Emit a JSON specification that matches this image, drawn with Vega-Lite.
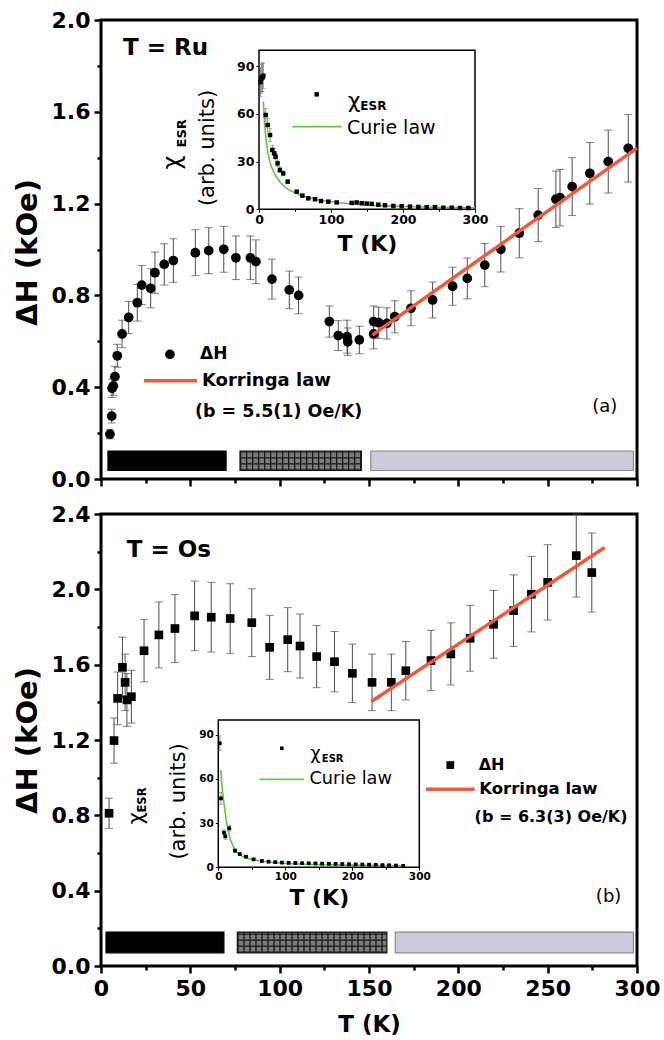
{
  "$schema": "https://vega.github.io/schema/vega-lite/v6.json",
  "width": 536,
  "height": 946,
  "autosize": {"type": "none"},
  "padding": {"left": 101, "top": 20, "right": 27, "bottom": 74},
  "background": "white",
  "config": {
    "view": {"stroke": null},
    "font": "DejaVu Sans",
    "axis": {"domain": false, "grid": false, "labelFont": "DejaVu Sans", "labelFontWeight": "bold", "labelColor": "black", "tickColor": "black", "titleFont": "DejaVu Sans", "titleFontWeight": "bold", "titleColor": "black", "labelFlush": false, "labelOverlap": false, "labelBound": false, "zindex": 1},
    "text": {"font": "DejaVu Sans", "color": "black"}
  },
  "data": {"values": [{}]},
  "datasets": {
    "ru": [
      {"T": 5.0, "H": 0.195, "err": 0.02}, {"T": 6.0, "H": 0.274, "err": 0.03}, {"T": 6.2, "H": 0.395, "err": 0.04}, {"T": 6.9, "H": 0.405, "err": 0.04},
      {"T": 7.8, "H": 0.446, "err": 0.045}, {"T": 9.1, "H": 0.537, "err": 0.05}, {"T": 11.8, "H": 0.632, "err": 0.06}, {"T": 15.5, "H": 0.704, "err": 0.07},
      {"T": 20.3, "H": 0.768, "err": 0.08}, {"T": 22.8, "H": 0.845, "err": 0.085}, {"T": 27.8, "H": 0.831, "err": 0.085}, {"T": 30.2, "H": 0.899, "err": 0.09},
      {"T": 35.4, "H": 0.935, "err": 0.09}, {"T": 40.5, "H": 0.952, "err": 0.095}, {"T": 52.8, "H": 0.986, "err": 0.1}, {"T": 60.3, "H": 0.995, "err": 0.1},
      {"T": 68.7, "H": 1.001, "err": 0.1}, {"T": 75.5, "H": 0.964, "err": 0.095}, {"T": 83.6, "H": 0.964, "err": 0.095}, {"T": 86.7, "H": 0.947, "err": 0.095},
      {"T": 95.7, "H": 0.871, "err": 0.087}, {"T": 105.4, "H": 0.824, "err": 0.082}, {"T": 110.6, "H": 0.8, "err": 0.08}, {"T": 127.8, "H": 0.686, "err": 0.068},
      {"T": 132.8, "H": 0.625, "err": 0.065}, {"T": 137.7, "H": 0.62, "err": 0.072}, {"T": 138.1, "H": 0.598, "err": 0.06}, {"T": 144.6, "H": 0.606, "err": 0.06},
      {"T": 152.6, "H": 0.686, "err": 0.068}, {"T": 152.6, "H": 0.632, "err": 0.065}, {"T": 155.4, "H": 0.681, "err": 0.068}, {"T": 160.0, "H": 0.678, "err": 0.068},
      {"T": 164.4, "H": 0.707, "err": 0.07}, {"T": 173.5, "H": 0.744, "err": 0.076}, {"T": 185.6, "H": 0.78, "err": 0.078}, {"T": 196.8, "H": 0.84, "err": 0.083},
      {"T": 205.0, "H": 0.874, "err": 0.089}, {"T": 214.8, "H": 0.932, "err": 0.094}, {"T": 223.8, "H": 1.001, "err": 0.099}, {"T": 234.1, "H": 1.071, "err": 0.107},
      {"T": 244.7, "H": 1.15, "err": 0.116}, {"T": 254.6, "H": 1.219, "err": 0.123}, {"T": 256.9, "H": 1.226, "err": 0.123}, {"T": 263.7, "H": 1.274, "err": 0.126},
      {"T": 273.6, "H": 1.332, "err": 0.134}, {"T": 283.9, "H": 1.383, "err": 0.137}, {"T": 295.1, "H": 1.441, "err": 0.147}
    ],
    "os": [
      {"T": 4.5, "H": 0.811, "err": 0.08}, {"T": 7.3, "H": 1.197, "err": 0.12}, {"T": 9.3, "H": 1.421, "err": 0.14}, {"T": 12.0, "H": 1.586, "err": 0.16},
      {"T": 13.5, "H": 1.506, "err": 0.15}, {"T": 14.5, "H": 1.413, "err": 0.14}, {"T": 17.0, "H": 1.43, "err": 0.14}, {"T": 24.1, "H": 1.674, "err": 0.165},
      {"T": 32.4, "H": 1.758, "err": 0.175}, {"T": 41.4, "H": 1.792, "err": 0.18}, {"T": 52.4, "H": 1.859, "err": 0.185}, {"T": 61.7, "H": 1.852, "err": 0.185},
      {"T": 72.3, "H": 1.845, "err": 0.185}, {"T": 84.4, "H": 1.823, "err": 0.18}, {"T": 94.4, "H": 1.692, "err": 0.17}, {"T": 104.5, "H": 1.733, "err": 0.17},
      {"T": 111.4, "H": 1.699, "err": 0.17}, {"T": 120.7, "H": 1.643, "err": 0.165}, {"T": 130.7, "H": 1.616, "err": 0.16}, {"T": 140.7, "H": 1.554, "err": 0.155},
      {"T": 151.7, "H": 1.506, "err": 0.15}, {"T": 162.5, "H": 1.506, "err": 0.15}, {"T": 170.6, "H": 1.568, "err": 0.155}, {"T": 184.7, "H": 1.622, "err": 0.16},
      {"T": 195.8, "H": 1.657, "err": 0.165}, {"T": 206.6, "H": 1.74, "err": 0.175}, {"T": 219.7, "H": 1.814, "err": 0.18}, {"T": 230.9, "H": 1.887, "err": 0.19},
      {"T": 240.9, "H": 1.974, "err": 0.2}, {"T": 250.0, "H": 2.037, "err": 0.2}, {"T": 266.0, "H": 2.179, "err": 0.22}, {"T": 274.7, "H": 2.089, "err": 0.21}
    ],
    "korA": [{"T": 152, "H": 0.628}, {"T": 300, "H": 1.442}],
    "korB": [{"T": 151.3, "H": 1.404}, {"T": 281.9, "H": 2.222}],
    "barsA": [{"regime": "low", "t0": 3.9, "t1": 70}, {"regime": "mid", "t0": 77.8, "t1": 145.7}, {"regime": "high", "t0": 151, "t1": 298}],
    "barsB": [{"regime": "low", "t0": 2.8, "t1": 68.8}, {"regime": "mid", "t0": 76.3, "t1": 160}, {"regime": "high", "t0": 164.7, "t1": 298}],
    "chiA": [
      {"T": 2, "v": 80, "err": 9}, {"T": 3, "v": 82, "err": 9}, {"T": 4, "v": 83, "err": 9}, {"T": 5, "v": 83, "err": 9}, {"T": 6, "v": 84, "err": 8},
      {"T": 9.3, "v": 59.3, "err": 4}, {"T": 12, "v": 53, "err": 4}, {"T": 15.3, "v": 46.7, "err": 4}, {"T": 18.5, "v": 37.3, "err": 3}, {"T": 21.3, "v": 35.2, "err": 3},
      {"T": 23, "v": 33.1, "err": 2}, {"T": 25.8, "v": 28.9, "err": 2}, {"T": 29, "v": 24.7, "err": 1.5}, {"T": 33.6, "v": 22.6, "err": 1.5}, {"T": 39.8, "v": 17.4, "err": 1},
      {"T": 52.3, "v": 11.1, "err": 0.5}, {"T": 60.2, "v": 8.6, "err": 0.5}, {"T": 68.5, "v": 6.9, "err": 0.4}, {"T": 77.8, "v": 6.3, "err": 0.4}, {"T": 86.1, "v": 5.2, "err": 0.3},
      {"T": 96.3, "v": 4.8, "err": 0.3}, {"T": 107.9, "v": 4.3, "err": 0.3}, {"T": 128.7, "v": 4.0, "err": 0.3}, {"T": 135.6, "v": 4.3, "err": 0.3}, {"T": 142.6, "v": 3.8, "err": 0.3},
      {"T": 149.5, "v": 3.6, "err": 0.3}, {"T": 156.5, "v": 3.4, "err": 0.3}, {"T": 165.7, "v": 2.9, "err": 0.3}, {"T": 175, "v": 2.5, "err": 0.3}, {"T": 186.6, "v": 2.1, "err": 0.3},
      {"T": 198.1, "v": 1.9, "err": 0.3}, {"T": 209.7, "v": 1.7, "err": 0.3}, {"T": 221.3, "v": 1.5, "err": 0.3}, {"T": 232.9, "v": 1.3, "err": 0.3}, {"T": 244.4, "v": 1.3, "err": 0.3},
      {"T": 256, "v": 1.0, "err": 0.3}, {"T": 267.6, "v": 1.0, "err": 0.3}, {"T": 279.2, "v": 0.8, "err": 0.3}, {"T": 290.7, "v": 0.8, "err": 0.3}
    ],
    "curieA": [
      {"T": 6.0, "v": 67.7}, {"T": 8.3, "v": 50.9}, {"T": 12.9, "v": 34.2}, {"T": 19.9, "v": 24.0}, {"T": 31.5, "v": 16.0}, {"T": 54.6, "v": 9.5},
      {"T": 77.8, "v": 6.5}, {"T": 124, "v": 3.6}, {"T": 170.4, "v": 2.3}, {"T": 216.7, "v": 1.6}, {"T": 300, "v": 1.0}
    ],
    "chiB": [
      {"T": 2.2, "v": 84.2, "err": 5}, {"T": 4, "v": 46.8, "err": 4}, {"T": 8.5, "v": 23.5, "err": 2}, {"T": 10.5, "v": 21, "err": 2}, {"T": 16.4, "v": 26.5, "err": 2},
      {"T": 24.9, "v": 11.3, "err": 1}, {"T": 32, "v": 9, "err": 0.8}, {"T": 41.4, "v": 7.2, "err": 0.6}, {"T": 52.7, "v": 5.4, "err": 0.5}, {"T": 65, "v": 4.3, "err": 0.4},
      {"T": 75, "v": 3.8, "err": 0.3}, {"T": 85, "v": 3.5, "err": 0.3}, {"T": 95, "v": 3.2, "err": 0.3}, {"T": 105, "v": 3.0, "err": 0.3}, {"T": 115, "v": 2.9, "err": 0.3},
      {"T": 125, "v": 2.8, "err": 0.3}, {"T": 135, "v": 2.7, "err": 0.3}, {"T": 145, "v": 2.6, "err": 0.3}, {"T": 155, "v": 2.5, "err": 0.3}, {"T": 165, "v": 2.4, "err": 0.3},
      {"T": 175, "v": 2.3, "err": 0.3}, {"T": 185, "v": 2.2, "err": 0.3}, {"T": 195, "v": 2.1, "err": 0.3}, {"T": 205, "v": 2.0, "err": 0.3}, {"T": 215, "v": 1.9, "err": 0.3},
      {"T": 225, "v": 1.8, "err": 0.3}, {"T": 235, "v": 1.7, "err": 0.3}, {"T": 245, "v": 1.5, "err": 0.3}, {"T": 255, "v": 1.4, "err": 0.3}, {"T": 265, "v": 1.2, "err": 0.3},
      {"T": 276, "v": 1.0, "err": 0.3}
    ],
    "curieB": [
      {"T": 3.6, "v": 66}, {"T": 5.5, "v": 55}, {"T": 8.5, "v": 43.4}, {"T": 15, "v": 24.2}, {"T": 22.4, "v": 14}, {"T": 37.3, "v": 7.2},
      {"T": 72, "v": 3.8}, {"T": 122, "v": 2.2}, {"T": 200, "v": 1.5}, {"T": 276.6, "v": 1.0}
    ]
  },
  "resolve": {"scale": {"x": "independent", "y": "independent"}, "axis": {"x": "independent", "y": "independent"}},
  "layer": [
    {
      "mark": {"type": "rect", "filled": false, "stroke": "black", "strokeWidth": 3},
      "encoding": {
        "x": {"datum": 0, "type": "quantitative", "scale": {"domain": [0, 300], "range": [0, 536], "nice": false, "zero": false},
              "axis": {"orient": "bottom", "offset": -487, "values": [0, 50, 100, 150, 200, 250, 300], "labels": false, "tickSize": 7, "tickWidth": 2.5, "title": null}},
        "x2": {"datum": 300},
        "y": {"datum": 0, "type": "quantitative", "scale": {"domain": [0, 2], "range": [459, 0], "nice": false, "zero": false},
              "axis": {"orient": "left", "values": [0, 0.4, 0.8, 1.2, 1.6, 2.0], "format": ".1f", "tickSize": 7, "tickWidth": 2.5, "labelFontSize": 22, "labelPadding": 4,
                       "title": "ΔH (kOe)", "titleFontSize": 29, "titleX": -74, "titleY": 232, "titleAngle": 270, "titleAlign": "center", "titleBaseline": "middle"}},
        "y2": {"datum": 2}
      }
    },
    {
      "mark": {"type": "rect", "filled": false, "stroke": "black", "strokeWidth": 3},
      "encoding": {
        "x": {"datum": 0, "type": "quantitative", "scale": {"domain": [0, 300], "range": [0, 536], "nice": false, "zero": false},
              "axis": {"orient": "bottom", "offset": 0, "values": [0, 50, 100, 150, 200, 250, 300], "tickSize": 7, "tickWidth": 2.5, "labelFontSize": 22, "labelPadding": 5,
                       "title": "T (K)", "titleFontSize": 23, "titleX": 268, "titleY": 58, "titleAngle": 0, "titleAlign": "center", "titleBaseline": "middle"}},
        "x2": {"datum": 300},
        "y": {"datum": 0, "type": "quantitative", "scale": {"domain": [0, 2.4], "range": [946, 494], "nice": false, "zero": false},
              "axis": {"orient": "left", "values": [0, 0.4, 0.8, 1.2, 1.6, 2.0, 2.4], "format": ".1f", "tickSize": 7, "tickWidth": 2.5, "labelFontSize": 22, "labelPadding": 4,
                       "title": "ΔH (kOe)", "titleFontSize": 29, "titleX": -74, "titleY": 720, "titleAngle": 270, "titleAlign": "center", "titleBaseline": "middle"}},
        "y2": {"datum": 2.4}
      }
    },
    {
      "data": {"name": "barsA"},
      "mark": {"type": "rect", "strokeWidth": 1.2},
      "encoding": {
        "x": {"field": "t0", "type": "quantitative", "scale": {"domain": [0, 300], "range": [0, 536], "nice": false, "zero": false},
              "axis": {"orient": "bottom", "offset": -487, "values": [25, 75, 125, 175, 225, 275], "labels": false, "tickSize": 4, "tickWidth": 2.5, "title": null}},
        "x2": {"field": "t1"},
        "y": {"datum": 0.037, "type": "quantitative", "scale": {"domain": [0, 2], "range": [459, 0], "nice": false, "zero": false},
              "axis": {"orient": "left", "values": [0.2, 0.6, 1.0, 1.4, 1.8], "labels": false, "tickSize": 4, "tickWidth": 2.5, "title": null}},
        "y2": {"datum": 0.122},
        "fill": {"field": "regime", "type": "nominal", "scale": {"domain": ["low", "mid", "high"], "range": ["#000000", "#7a7a7a", "#cbcbdb"]}, "legend": null},
        "stroke": {"field": "regime", "type": "nominal", "scale": {"domain": ["low", "mid", "high"], "range": ["#000000", "#111111", "#8c8c8c"]}, "legend": null}
      }
    },
    {
      "data": {"name": "barsB"},
      "mark": {"type": "rect", "strokeWidth": 1.2},
      "encoding": {
        "x": {"field": "t0", "type": "quantitative", "scale": {"domain": [0, 300], "range": [0, 536], "nice": false, "zero": false},
              "axis": {"orient": "bottom", "offset": 0, "values": [25, 75, 125, 175, 225, 275], "labels": false, "tickSize": 4, "tickWidth": 2.5, "title": null}},
        "x2": {"field": "t1"},
        "y": {"datum": 0.07, "type": "quantitative", "scale": {"domain": [0, 2.4], "range": [946, 494], "nice": false, "zero": false},
              "axis": {"orient": "left", "values": [0.2, 0.6, 1.0, 1.4, 1.8, 2.2], "labels": false, "tickSize": 4, "tickWidth": 2.5, "title": null}},
        "y2": {"datum": 0.18},
        "fill": {"field": "regime", "type": "nominal", "scale": {"domain": ["low", "mid", "high"], "range": ["#000000", "#7a7a7a", "#cbcbdb"]}, "legend": null},
        "stroke": {"field": "regime", "type": "nominal", "scale": {"domain": ["low", "mid", "high"], "range": ["#000000", "#111111", "#8c8c8c"]}, "legend": null}
      }
    },
    {
      "mark": {"type": "rule", "color": "#1a1a1a", "strokeWidth": 19.5, "strokeDash": [1.3, 4.7]},
      "encoding": {
        "x": {"datum": 77.8, "type": "quantitative", "scale": {"domain": [0, 300], "range": [0, 536], "nice": false, "zero": false}, "axis": null},
        "x2": {"datum": 145.7},
        "y": {"datum": 0.0795, "type": "quantitative", "scale": {"domain": [0, 2], "range": [459, 0], "nice": false, "zero": false}, "axis": null}
      }
    },
    {
      "mark": {"type": "rule", "color": "#1a1a1a", "strokeWidth": 121.3, "strokeDash": [1.3, 4.7]},
      "encoding": {
        "x": {"datum": 111.75, "type": "quantitative", "scale": {"domain": [0, 300], "range": [0, 536], "nice": false, "zero": false}, "axis": null},
        "y": {"datum": 0.037, "type": "quantitative", "scale": {"domain": [0, 2], "range": [459, 0], "nice": false, "zero": false}, "axis": null},
        "y2": {"datum": 0.122}
      }
    },
    {
      "mark": {"type": "rule", "color": "#1a1a1a", "strokeWidth": 20.7, "strokeDash": [1.3, 4.7]},
      "encoding": {
        "x": {"datum": 76.3, "type": "quantitative", "scale": {"domain": [0, 300], "range": [0, 536], "nice": false, "zero": false}, "axis": null},
        "x2": {"datum": 160},
        "y": {"datum": 0.125, "type": "quantitative", "scale": {"domain": [0, 2.4], "range": [946, 494], "nice": false, "zero": false}, "axis": null}
      }
    },
    {
      "mark": {"type": "rule", "color": "#1a1a1a", "strokeWidth": 149.6, "strokeDash": [1.3, 4.7]},
      "encoding": {
        "x": {"datum": 118.15, "type": "quantitative", "scale": {"domain": [0, 300], "range": [0, 536], "nice": false, "zero": false}, "axis": null},
        "y": {"datum": 0.07, "type": "quantitative", "scale": {"domain": [0, 2.4], "range": [946, 494], "nice": false, "zero": false}, "axis": null},
        "y2": {"datum": 0.18}
      }
    },
    {
      "data": {"name": "ru"},
      "mark": {"type": "errorbar", "ticks": {"size": 8, "thickness": 1, "color": "#4d4d4d"}, "rule": {"color": "#4d4d4d", "strokeWidth": 1}},
      "encoding": {
        "x": {"field": "T", "type": "quantitative", "scale": {"domain": [0, 300], "range": [0, 536], "nice": false, "zero": false}, "axis": null},
        "y": {"field": "H", "type": "quantitative", "scale": {"domain": [0, 2], "range": [459, 0], "nice": false, "zero": false}, "axis": null},
        "yError": {"field": "err"}
      }
    },
    {
      "data": {"name": "ru"},
      "mark": {"type": "point", "shape": "circle", "filled": true, "size": 95, "color": "black", "opacity": 1},
      "encoding": {
        "x": {"field": "T", "type": "quantitative", "scale": {"domain": [0, 300], "range": [0, 536], "nice": false, "zero": false}, "axis": null},
        "y": {"field": "H", "type": "quantitative", "scale": {"domain": [0, 2], "range": [459, 0], "nice": false, "zero": false}, "axis": null}
      }
    },
    {
      "data": {"name": "korA"},
      "mark": {"type": "line", "color": "#ee5a3c", "strokeWidth": 3.5},
      "encoding": {
        "x": {"field": "T", "type": "quantitative", "scale": {"domain": [0, 300], "range": [0, 536], "nice": false, "zero": false}, "axis": null},
        "y": {"field": "H", "type": "quantitative", "scale": {"domain": [0, 2], "range": [459, 0], "nice": false, "zero": false}, "axis": null}
      }
    },
    {
      "data": {"name": "os"},
      "mark": {"type": "errorbar", "ticks": {"size": 8, "thickness": 1, "color": "#4d4d4d"}, "rule": {"color": "#4d4d4d", "strokeWidth": 1}},
      "encoding": {
        "x": {"field": "T", "type": "quantitative", "scale": {"domain": [0, 300], "range": [0, 536], "nice": false, "zero": false}, "axis": null},
        "y": {"field": "H", "type": "quantitative", "scale": {"domain": [0, 2.4], "range": [946, 494], "nice": false, "zero": false}, "axis": null},
        "yError": {"field": "err"}
      }
    },
    {
      "data": {"name": "os"},
      "mark": {"type": "square", "size": 75, "color": "black", "opacity": 1},
      "encoding": {
        "x": {"field": "T", "type": "quantitative", "scale": {"domain": [0, 300], "range": [0, 536], "nice": false, "zero": false}, "axis": null},
        "y": {"field": "H", "type": "quantitative", "scale": {"domain": [0, 2.4], "range": [946, 494], "nice": false, "zero": false}, "axis": null}
      }
    },
    {
      "data": {"name": "korB"},
      "mark": {"type": "line", "color": "#ee5a3c", "strokeWidth": 3.5},
      "encoding": {
        "x": {"field": "T", "type": "quantitative", "scale": {"domain": [0, 300], "range": [0, 536], "nice": false, "zero": false}, "axis": null},
        "y": {"field": "H", "type": "quantitative", "scale": {"domain": [0, 2.4], "range": [946, 494], "nice": false, "zero": false}, "axis": null}
      }
    },
    {
      "mark": {"type": "text", "text": "T = Ru", "align": "left", "baseline": "middle", "fontSize": 23, "fontWeight": "bold"},
      "encoding": {
        "x": {"datum": 12.3, "type": "quantitative", "scale": {"domain": [0, 300], "range": [0, 536], "nice": false, "zero": false}, "axis": null},
        "y": {"datum": 1.878, "type": "quantitative", "scale": {"domain": [0, 2], "range": [459, 0], "nice": false, "zero": false}, "axis": null}
      }
    },
    {
      "mark": {"type": "point", "shape": "circle", "filled": true, "size": 95, "color": "black", "opacity": 1},
      "encoding": {
        "x": {"datum": 38.6, "type": "quantitative", "scale": {"domain": [0, 300], "range": [0, 536], "nice": false, "zero": false}, "axis": null},
        "y": {"datum": 0.543, "type": "quantitative", "scale": {"domain": [0, 2], "range": [459, 0], "nice": false, "zero": false}, "axis": null}
      }
    },
    {
      "mark": {"type": "text", "text": "ΔH", "align": "left", "baseline": "middle", "fontSize": 17, "fontWeight": "bold"},
      "encoding": {
        "x": {"datum": 55.4, "type": "quantitative", "scale": {"domain": [0, 300], "range": [0, 536], "nice": false, "zero": false}, "axis": null},
        "y": {"datum": 0.545, "type": "quantitative", "scale": {"domain": [0, 2], "range": [459, 0], "nice": false, "zero": false}, "axis": null}
      }
    },
    {
      "mark": {"type": "rule", "color": "#ee5a3c", "strokeWidth": 3.5},
      "encoding": {
        "x": {"datum": 24.1, "type": "quantitative", "scale": {"domain": [0, 300], "range": [0, 536], "nice": false, "zero": false}, "axis": null},
        "x2": {"datum": 53.7},
        "y": {"datum": 0.428, "type": "quantitative", "scale": {"domain": [0, 2], "range": [459, 0], "nice": false, "zero": false}, "axis": null}
      }
    },
    {
      "mark": {"type": "text", "text": "Korringa law", "align": "left", "baseline": "middle", "fontSize": 18, "fontWeight": "bold"},
      "encoding": {
        "x": {"datum": 56.5, "type": "quantitative", "scale": {"domain": [0, 300], "range": [0, 536], "nice": false, "zero": false}, "axis": null},
        "y": {"datum": 0.428, "type": "quantitative", "scale": {"domain": [0, 2], "range": [459, 0], "nice": false, "zero": false}, "axis": null}
      }
    },
    {
      "mark": {"type": "text", "text": "(b = 5.5(1) Oe/K)", "align": "left", "baseline": "middle", "fontSize": 17.5, "fontWeight": "bold"},
      "encoding": {
        "x": {"datum": 52.6, "type": "quantitative", "scale": {"domain": [0, 300], "range": [0, 536], "nice": false, "zero": false}, "axis": null},
        "y": {"datum": 0.293, "type": "quantitative", "scale": {"domain": [0, 2], "range": [459, 0], "nice": false, "zero": false}, "axis": null}
      }
    },
    {
      "mark": {"type": "text", "text": "(a)", "align": "center", "baseline": "middle", "fontSize": 18},
      "encoding": {
        "x": {"datum": 282, "type": "quantitative", "scale": {"domain": [0, 300], "range": [0, 536], "nice": false, "zero": false}, "axis": null},
        "y": {"datum": 0.314, "type": "quantitative", "scale": {"domain": [0, 2], "range": [459, 0], "nice": false, "zero": false}, "axis": null}
      }
    },
    {
      "mark": {"type": "text", "text": "T = Os", "align": "left", "baseline": "middle", "fontSize": 23, "fontWeight": "bold"},
      "encoding": {
        "x": {"datum": 14.4, "type": "quantitative", "scale": {"domain": [0, 300], "range": [0, 536], "nice": false, "zero": false}, "axis": null},
        "y": {"datum": 2.209, "type": "quantitative", "scale": {"domain": [0, 2.4], "range": [946, 494], "nice": false, "zero": false}, "axis": null}
      }
    },
    {
      "mark": {"type": "square", "size": 60, "color": "black", "opacity": 1},
      "encoding": {
        "x": {"datum": 195.5, "type": "quantitative", "scale": {"domain": [0, 300], "range": [0, 536], "nice": false, "zero": false}, "axis": null},
        "y": {"datum": 1.067, "type": "quantitative", "scale": {"domain": [0, 2.4], "range": [946, 494], "nice": false, "zero": false}, "axis": null}
      }
    },
    {
      "mark": {"type": "text", "text": "ΔH", "align": "left", "baseline": "middle", "fontSize": 16, "fontWeight": "bold"},
      "encoding": {
        "x": {"datum": 211.4, "type": "quantitative", "scale": {"domain": [0, 300], "range": [0, 536], "nice": false, "zero": false}, "axis": null},
        "y": {"datum": 1.067, "type": "quantitative", "scale": {"domain": [0, 2.4], "range": [946, 494], "nice": false, "zero": false}, "axis": null}
      }
    },
    {
      "mark": {"type": "rule", "color": "#ee5a3c", "strokeWidth": 3.5},
      "encoding": {
        "x": {"datum": 181.9, "type": "quantitative", "scale": {"domain": [0, 300], "range": [0, 536], "nice": false, "zero": false}, "axis": null},
        "x2": {"datum": 209.1},
        "y": {"datum": 0.938, "type": "quantitative", "scale": {"domain": [0, 2.4], "range": [946, 494], "nice": false, "zero": false}, "axis": null}
      }
    },
    {
      "mark": {"type": "text", "text": "Korringa law", "align": "left", "baseline": "middle", "fontSize": 16.5, "fontWeight": "bold"},
      "encoding": {
        "x": {"datum": 211.7, "type": "quantitative", "scale": {"domain": [0, 300], "range": [0, 536], "nice": false, "zero": false}, "axis": null},
        "y": {"datum": 0.938, "type": "quantitative", "scale": {"domain": [0, 2.4], "range": [946, 494], "nice": false, "zero": false}, "axis": null}
      }
    },
    {
      "mark": {"type": "text", "text": "(b = 6.3(3) Oe/K)", "align": "left", "baseline": "middle", "fontSize": 16, "fontWeight": "bold"},
      "encoding": {
        "x": {"datum": 209.1, "type": "quantitative", "scale": {"domain": [0, 300], "range": [0, 536], "nice": false, "zero": false}, "axis": null},
        "y": {"datum": 0.793, "type": "quantitative", "scale": {"domain": [0, 2.4], "range": [946, 494], "nice": false, "zero": false}, "axis": null}
      }
    },
    {
      "mark": {"type": "text", "text": "(b)", "align": "center", "baseline": "middle", "fontSize": 18},
      "encoding": {
        "x": {"datum": 284.1, "type": "quantitative", "scale": {"domain": [0, 300], "range": [0, 536], "nice": false, "zero": false}, "axis": null},
        "y": {"datum": 0.368, "type": "quantitative", "scale": {"domain": [0, 2.4], "range": [946, 494], "nice": false, "zero": false}, "axis": null}
      }
    },
    {
      "mark": {"type": "rect", "fill": "white", "stroke": "black", "strokeWidth": 1.5},
      "encoding": {
        "x": {"datum": 0, "type": "quantitative", "scale": {"domain": [0, 300], "range": [158, 374], "nice": false, "zero": false},
              "axis": {"orient": "bottom", "offset": -756.7, "values": [0, 100, 200, 300], "tickSize": 3, "tickWidth": 1, "labelFontSize": 12.5, "labelPadding": 1,
                       "title": "T (K)", "titleFontSize": 22, "titleX": 266, "titleY": 33.7, "titleAngle": 0, "titleAlign": "center", "titleBaseline": "middle"}},
        "x2": {"datum": 300},
        "y": {"datum": 0, "type": "quantitative", "scale": {"domain": [0, 100], "range": [189.3, 30.3], "nice": false, "zero": false},
              "axis": {"orient": "left", "offset": -158, "values": [0, 30, 60, 90], "tickSize": 3, "tickWidth": 1, "labelFontSize": 12.5, "labelPadding": 2,
                       "title": "(arb. units)", "titleFontSize": 21, "titleFontWeight": "normal", "titleX": -52, "titleY": 127.5, "titleAngle": 270, "titleAlign": "center", "titleBaseline": "middle"}},
        "y2": {"datum": 100}
      }
    },
    {
      "data": {"name": "chiA"},
      "mark": {"type": "errorbar", "ticks": {"size": 4, "thickness": 0.8, "color": "#777777"}, "rule": {"color": "#777777", "strokeWidth": 0.8}},
      "encoding": {
        "x": {"field": "T", "type": "quantitative", "scale": {"domain": [0, 300], "range": [158, 374], "nice": false, "zero": false}, "axis": null},
        "y": {"field": "v", "type": "quantitative", "scale": {"domain": [0, 100], "range": [189.3, 30.3], "nice": false, "zero": false}, "axis": null},
        "yError": {"field": "err"}
      }
    },
    {
      "data": {"name": "curieA"},
      "mark": {"type": "line", "color": "#5ccc3c", "strokeWidth": 1.6, "interpolate": "monotone"},
      "encoding": {
        "x": {"field": "T", "type": "quantitative", "scale": {"domain": [0, 300], "range": [158, 374], "nice": false, "zero": false}, "axis": null},
        "y": {"field": "v", "type": "quantitative", "scale": {"domain": [0, 100], "range": [189.3, 30.3], "nice": false, "zero": false}, "axis": null}
      }
    },
    {
      "data": {"name": "chiA"},
      "mark": {"type": "square", "size": 20, "color": "black", "opacity": 1},
      "encoding": {
        "x": {"field": "T", "type": "quantitative", "scale": {"domain": [0, 300], "range": [158, 374], "nice": false, "zero": false},
              "axis": {"orient": "bottom", "offset": -756.7, "values": [50, 150, 250], "labels": false, "tickSize": 2, "tickWidth": 1, "title": null}},
        "y": {"field": "v", "type": "quantitative", "scale": {"domain": [0, 100], "range": [189.3, 30.3], "nice": false, "zero": false}, "axis": null}
      }
    },
    {
      "mark": {"type": "square", "size": 20, "color": "black", "opacity": 1},
      "encoding": {
        "x": {"datum": 80.1, "type": "quantitative", "scale": {"domain": [0, 300], "range": [158, 374], "nice": false, "zero": false}, "axis": null},
        "y": {"datum": 72.3, "type": "quantitative", "scale": {"domain": [0, 100], "range": [189.3, 30.3], "nice": false, "zero": false}, "axis": null}
      }
    },
    {
      "mark": {"type": "text", "text": "χ", "align": "center", "baseline": "middle", "fontSize": 22},
      "encoding": {
        "x": {"datum": 132.2, "type": "quantitative", "scale": {"domain": [0, 300], "range": [158, 374], "nice": false, "zero": false}, "axis": null},
        "y": {"datum": 68.2, "type": "quantitative", "scale": {"domain": [0, 100], "range": [189.3, 30.3], "nice": false, "zero": false}, "axis": null}
      }
    },
    {
      "mark": {"type": "text", "text": "ESR", "align": "center", "baseline": "middle", "fontSize": 12, "fontWeight": "bold"},
      "encoding": {
        "x": {"datum": 158.8, "type": "quantitative", "scale": {"domain": [0, 300], "range": [158, 374], "nice": false, "zero": false}, "axis": null},
        "y": {"datum": 64.8, "type": "quantitative", "scale": {"domain": [0, 100], "range": [189.3, 30.3], "nice": false, "zero": false}, "axis": null}
      }
    },
    {
      "mark": {"type": "rule", "color": "#5ccc3c", "strokeWidth": 1.8},
      "encoding": {
        "x": {"datum": 46.3, "type": "quantitative", "scale": {"domain": [0, 300], "range": [158, 374], "nice": false, "zero": false}, "axis": null},
        "x2": {"datum": 114.9},
        "y": {"datum": 52, "type": "quantitative", "scale": {"domain": [0, 100], "range": [189.3, 30.3], "nice": false, "zero": false}, "axis": null}
      }
    },
    {
      "mark": {"type": "text", "text": "Curie law", "align": "left", "baseline": "middle", "fontSize": 19},
      "encoding": {
        "x": {"datum": 122.2, "type": "quantitative", "scale": {"domain": [0, 300], "range": [158, 374], "nice": false, "zero": false}, "axis": null},
        "y": {"datum": 51.1, "type": "quantitative", "scale": {"domain": [0, 100], "range": [189.3, 30.3], "nice": false, "zero": false}, "axis": null}
      }
    },
    {
      "mark": {"type": "text", "text": "χ", "align": "center", "baseline": "middle", "fontSize": 24, "angle": 270},
      "encoding": {
        "x": {"datum": -120.1, "type": "quantitative", "scale": {"domain": [0, 300], "range": [158, 374], "nice": false, "zero": false}, "axis": null},
        "y": {"datum": 29.4, "type": "quantitative", "scale": {"domain": [0, 100], "range": [189.3, 30.3], "nice": false, "zero": false}, "axis": null}
      }
    },
    {
      "mark": {"type": "text", "text": "ESR", "align": "center", "baseline": "middle", "fontSize": 13, "fontWeight": "bold", "angle": 270},
      "encoding": {
        "x": {"datum": -107.4, "type": "quantitative", "scale": {"domain": [0, 300], "range": [158, 374], "nice": false, "zero": false}, "axis": null},
        "y": {"datum": 47.8, "type": "quantitative", "scale": {"domain": [0, 100], "range": [189.3, 30.3], "nice": false, "zero": false}, "axis": null}
      }
    },
    {
      "mark": {"type": "rect", "fill": "white", "stroke": "black", "strokeWidth": 1.5},
      "encoding": {
        "x": {"datum": 0, "type": "quantitative", "scale": {"domain": [0, 300], "range": [117.3, 318.3], "nice": false, "zero": false},
              "axis": {"orient": "bottom", "offset": -98.7, "values": [0, 100, 200, 300], "tickSize": 3, "tickWidth": 1, "labelFontSize": 10.5, "labelPadding": 1,
                       "title": "T (K)", "titleFontSize": 22, "titleX": 217.8, "titleY": 30, "titleAngle": 0, "titleAlign": "center", "titleBaseline": "middle"}},
        "x2": {"datum": 300},
        "y": {"datum": 0, "type": "quantitative", "scale": {"domain": [0, 100], "range": [847.3, 700], "nice": false, "zero": false},
              "axis": {"orient": "left", "offset": -117.3, "values": [0, 30, 60, 90], "tickSize": 3, "tickWidth": 1, "labelFontSize": 10.5, "labelPadding": 2,
                       "title": "(arb. units)", "titleFontSize": 21, "titleFontWeight": "normal", "titleX": -40.3, "titleY": 781, "titleAngle": 270, "titleAlign": "center", "titleBaseline": "middle"}},
        "y2": {"datum": 100}
      }
    },
    {
      "data": {"name": "chiB"},
      "mark": {"type": "errorbar", "ticks": {"size": 4, "thickness": 0.8, "color": "#777777"}, "rule": {"color": "#777777", "strokeWidth": 0.8}},
      "encoding": {
        "x": {"field": "T", "type": "quantitative", "scale": {"domain": [0, 300], "range": [117.3, 318.3], "nice": false, "zero": false}, "axis": null},
        "y": {"field": "v", "type": "quantitative", "scale": {"domain": [0, 100], "range": [847.3, 700], "nice": false, "zero": false}, "axis": null},
        "yError": {"field": "err"}
      }
    },
    {
      "data": {"name": "curieB"},
      "mark": {"type": "line", "color": "#5ccc3c", "strokeWidth": 1.6, "interpolate": "monotone"},
      "encoding": {
        "x": {"field": "T", "type": "quantitative", "scale": {"domain": [0, 300], "range": [117.3, 318.3], "nice": false, "zero": false}, "axis": null},
        "y": {"field": "v", "type": "quantitative", "scale": {"domain": [0, 100], "range": [847.3, 700], "nice": false, "zero": false}, "axis": null}
      }
    },
    {
      "data": {"name": "chiB"},
      "mark": {"type": "square", "size": 14, "color": "black", "opacity": 1},
      "encoding": {
        "x": {"field": "T", "type": "quantitative", "scale": {"domain": [0, 300], "range": [117.3, 318.3], "nice": false, "zero": false},
              "axis": {"orient": "bottom", "offset": -98.7, "values": [50, 150, 250], "labels": false, "tickSize": 2, "tickWidth": 1, "title": null}},
        "y": {"field": "v", "type": "quantitative", "scale": {"domain": [0, 100], "range": [847.3, 700], "nice": false, "zero": false}, "axis": null}
      }
    },
    {
      "mark": {"type": "square", "size": 13, "color": "black", "opacity": 1},
      "encoding": {
        "x": {"datum": 94.8, "type": "quantitative", "scale": {"domain": [0, 300], "range": [117.3, 318.3], "nice": false, "zero": false}, "axis": null},
        "y": {"datum": 80.8, "type": "quantitative", "scale": {"domain": [0, 100], "range": [847.3, 700], "nice": false, "zero": false}, "axis": null}
      }
    },
    {
      "mark": {"type": "text", "text": "χ", "align": "center", "baseline": "middle", "fontSize": 18},
      "encoding": {
        "x": {"datum": 145, "type": "quantitative", "scale": {"domain": [0, 300], "range": [117.3, 318.3], "nice": false, "zero": false}, "axis": null},
        "y": {"datum": 76.8, "type": "quantitative", "scale": {"domain": [0, 100], "range": [847.3, 700], "nice": false, "zero": false}, "axis": null}
      }
    },
    {
      "mark": {"type": "text", "text": "ESR", "align": "center", "baseline": "middle", "fontSize": 10, "fontWeight": "bold"},
      "encoding": {
        "x": {"datum": 170.7, "type": "quantitative", "scale": {"domain": [0, 300], "range": [117.3, 318.3], "nice": false, "zero": false}, "axis": null},
        "y": {"datum": 73.7, "type": "quantitative", "scale": {"domain": [0, 100], "range": [847.3, 700], "nice": false, "zero": false}, "axis": null}
      }
    },
    {
      "mark": {"type": "rule", "color": "#5ccc3c", "strokeWidth": 1.8},
      "encoding": {
        "x": {"datum": 61.5, "type": "quantitative", "scale": {"domain": [0, 300], "range": [117.3, 318.3], "nice": false, "zero": false}, "axis": null},
        "x2": {"datum": 128.2},
        "y": {"datum": 59.7, "type": "quantitative", "scale": {"domain": [0, 100], "range": [847.3, 700], "nice": false, "zero": false}, "axis": null}
      }
    },
    {
      "mark": {"type": "text", "text": "Curie law", "align": "left", "baseline": "middle", "fontSize": 17.7},
      "encoding": {
        "x": {"datum": 136, "type": "quantitative", "scale": {"domain": [0, 300], "range": [117.3, 318.3], "nice": false, "zero": false}, "axis": null},
        "y": {"datum": 59.7, "type": "quantitative", "scale": {"domain": [0, 100], "range": [847.3, 700], "nice": false, "zero": false}, "axis": null}
      }
    },
    {
      "mark": {"type": "text", "text": "χ", "align": "center", "baseline": "middle", "fontSize": 21, "angle": 270},
      "encoding": {
        "x": {"datum": -121.8, "type": "quantitative", "scale": {"domain": [0, 300], "range": [117.3, 318.3], "nice": false, "zero": false}, "axis": null},
        "y": {"datum": 33.3, "type": "quantitative", "scale": {"domain": [0, 100], "range": [847.3, 700], "nice": false, "zero": false}, "axis": null}
      }
    },
    {
      "mark": {"type": "text", "text": "ESR", "align": "center", "baseline": "middle", "fontSize": 11.5, "fontWeight": "bold", "angle": 270},
      "encoding": {
        "x": {"datum": -112.4, "type": "quantitative", "scale": {"domain": [0, 300], "range": [117.3, 318.3], "nice": false, "zero": false}, "axis": null},
        "y": {"datum": 45.7, "type": "quantitative", "scale": {"domain": [0, 100], "range": [847.3, 700], "nice": false, "zero": false}, "axis": null}
      }
    }
  ]
}
